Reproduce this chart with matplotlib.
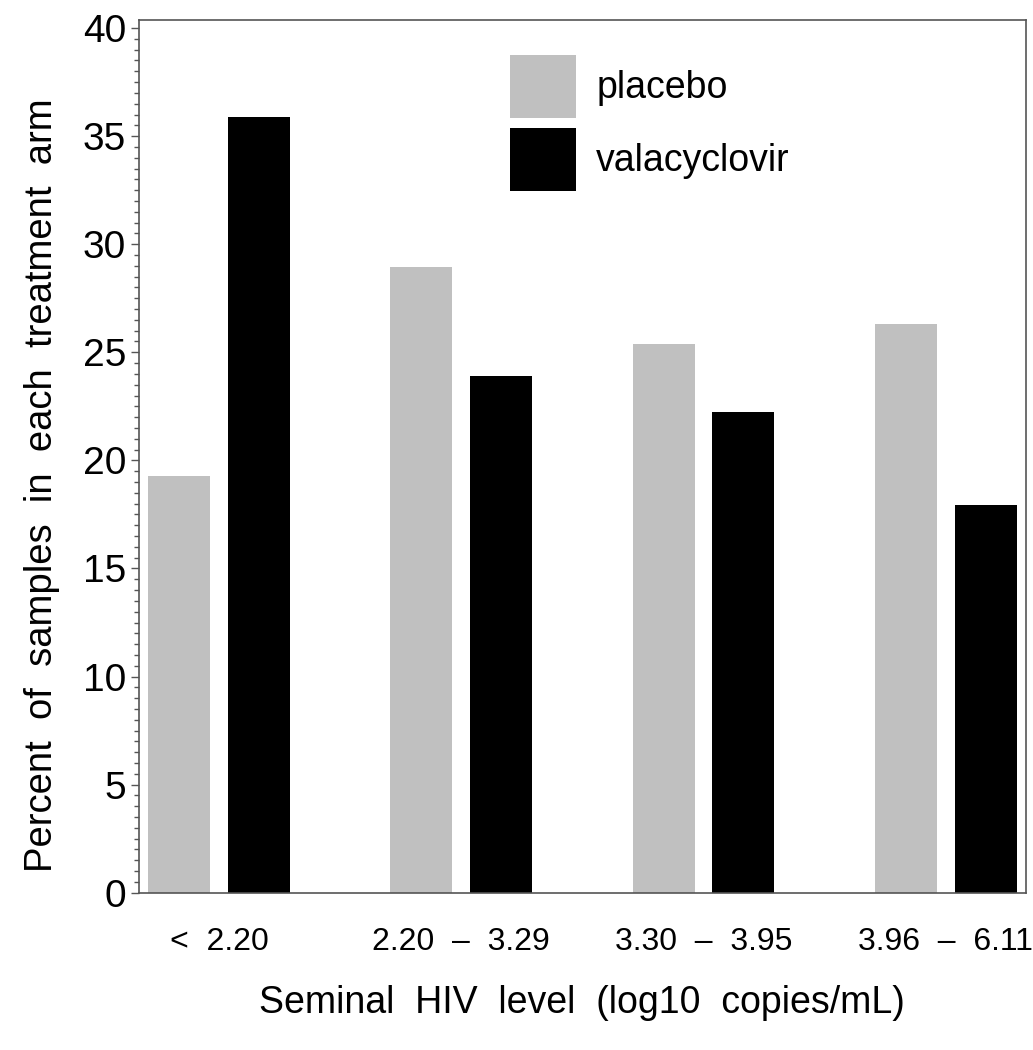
import matplotlib.pyplot as plt
import numpy as np
from matplotlib.ticker import MultipleLocator

plt.rcParams['font.family'] = ['Liberation Sans', 'DejaVu Sans']

groups = ["<  2.20", "2.20  \u2013  3.29", "3.30  \u2013  3.95", "3.96  \u2013  6.11"]
placebo = [19.3, 28.95, 25.4, 26.3]
valacyclovir = [35.9, 23.9, 22.25, 17.95]

x = np.arange(len(groups))
w = 0.256
off = 0.165

fig = plt.figure(figsize=(10.33, 10.5), dpi=100)
ax = fig.add_axes([0.1343, 0.1498, 0.9932 - 0.1343, 0.9805 - 0.1498])

ax.bar(x - off, placebo, width=w, color='#c0c0c0', label='placebo')
ax.bar(x + off, valacyclovir, width=w, color='black', label='valacyclovir')

ax.set_xlim(-0.331, 3.331)
ax.set_ylim(0, 40.35)
ax.set_xticks(x)
ax.set_xticklabels(groups, fontsize=23)
ax.tick_params(axis='x', length=0, pad=25)
ax.yaxis.set_major_locator(MultipleLocator(5))
ax.yaxis.set_minor_locator(MultipleLocator(0.5))
ax.tick_params(axis='y', which='major', labelsize=28, length=6, width=1, color='#555555', pad=3)
ax.tick_params(axis='y', which='minor', length=3.5, width=1, color='#555555')

for s in ax.spines.values():
    s.set_color('#555555')
    s.set_linewidth(1.2)

ax.set_ylabel("Percent  of  samples  in  each  treatment  arm", fontsize=27.5)
ax.yaxis.set_label_coords(-0.089, 0.467)
ax.set_xlabel("Seminal  HIV  level  (log10  copies/mL)", fontsize=27, labelpad=20)

ax.legend(loc='upper left', bbox_to_anchor=(0.4937, 0.9476), bbox_transform=fig.transFigure,
          frameon=False, fontsize=27, handlelength=1.75, handleheight=2.2,
          handletextpad=0.55, labelspacing=0.27, borderpad=0, borderaxespad=0)

fig.savefig('out.png', dpi=100)
